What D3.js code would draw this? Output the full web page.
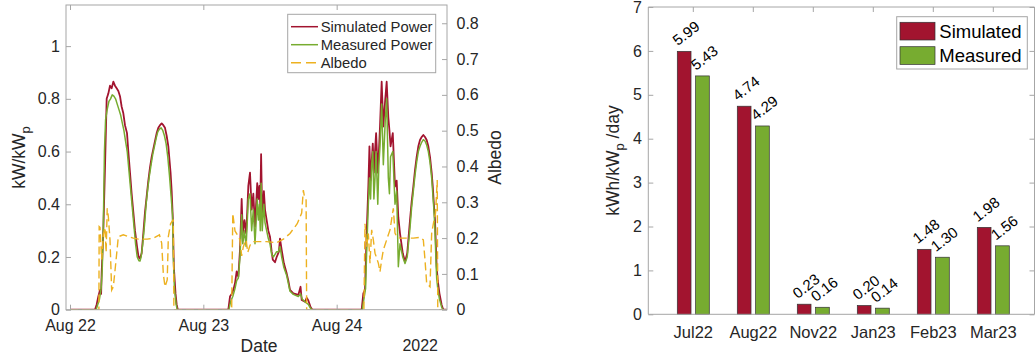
<!DOCTYPE html>
<html>
<head>
<meta charset="utf-8">
<script src="https://cdn.jsdelivr.net/npm/d3@7"></script>
<style>
  body { margin: 0; background: #fff; }
  svg { display: block; font-family: "Liberation Sans", Arial, Helvetica, sans-serif; }
</style>
</head>
<body>
<svg id="chart" width="1035" height="358"></svg>
<script>
// ---- time series, [hours since 22 Aug 2022 00:00, value] ----
const simulatedPower = [
  [0,0],[4.5,0],[4.8,0.02],[5.1,0.05],[5.4,0.075],[5.6,0.06],[5.7,0.14],[6.0,0.3],[6.3,0.54],[6.6,0.8],
  [6.9,0.82],[7.2,0.85],[7.5,0.84],[7.8,0.865],[8.1,0.85],[8.4,0.84],[8.7,0.83],[9.0,0.81],[9.3,0.77],
  [9.6,0.745],[9.9,0.7],[10.26,0.67],[10.5,0.6],[10.8,0.52],[11.1,0.44],[11.4,0.37],[11.7,0.3],[12.06,0.24],
  [12.3,0.205],[12.5,0.195],[12.7,0.2],[12.9,0.215],[13.2,0.29],[13.5,0.37],[13.8,0.43],[14.1,0.49],
  [14.4,0.54],[14.7,0.58],[15.0,0.61],[15.3,0.64],[15.6,0.67],[15.9,0.69],[16.2,0.7],[16.5,0.707],
  [16.8,0.7],[17.1,0.69],[17.4,0.66],[17.7,0.62],[18.1,0.52],[18.3,0.45],[18.5,0.35],[18.7,0.16],
  [19.0,0.06],[19.2,0.02],[19.4,0],
  [28.5,0],[28.8,0.05],[29.1,0.06],[29.4,0.075],[29.7,0.1],[30.0,0.145],[30.3,0.125],[30.6,0.227],
  [30.9,0.42],[31.1,0.29],[31.4,0.34],[31.7,0.29],[31.9,0.37],[32.1,0.47],[32.4,0.52],[32.7,0.38],
  [33.0,0.44],[33.3,0.315],[33.5,0.4],[33.7,0.48],[33.9,0.42],[34.1,0.47],[34.25,0.4],[34.4,0.59],
  [34.6,0.35],[34.9,0.45],[35.1,0.38],[35.4,0.34],[35.7,0.3],[36.0,0.277],[36.3,0.22],[36.5,0.19],
  [36.9,0.18],[37.2,0.2],[37.4,0.21],[37.6,0.22],[37.8,0.27],[38.1,0.227],[38.5,0.176],[39.0,0.138],
  [39.3,0.11],[39.6,0.075],[40.2,0.062],[41.1,0.056],[41.5,0.087],[41.7,0.037],[42.3,0.03],[42.6,0.045],
  [42.9,0.035],[43.3,0.01],[43.6,0],
  [52.5,0],[52.8,0.062],[53.1,0.075],[53.4,0.29],[53.7,0.467],[53.9,0.62],[54.1,0.49],[54.3,0.56],
  [54.5,0.63],[54.7,0.52],[54.9,0.6],[55.1,0.67],[55.4,0.52],[55.6,0.6],[55.8,0.695],[56.1,0.865],
  [56.4,0.695],[56.75,0.8],[57.0,0.865],[57.3,0.73],[57.5,0.68],[57.7,0.62],[58.1,0.67],[58.5,0.467],
  [58.8,0.49],[59.1,0.35],[59.4,0.29],[59.9,0.214],[60.3,0.182],[60.7,0.214],[61.2,0.34],[61.5,0.41],
  [61.8,0.467],[62.1,0.53],[62.4,0.58],[62.7,0.62],[63.0,0.644],[63.3,0.655],[63.6,0.663],[63.9,0.655],
  [64.2,0.644],[64.5,0.62],[64.8,0.58],[65.1,0.52],[65.3,0.467],[65.5,0.4],[65.7,0.34],[65.85,0.25],
  [66.0,0.163],[66.2,0.11],[66.5,0.062],[66.9,0.018],[67.2,0],[67.8,0]
];

const measuredPower = [
  [0,0],[4.7,0],[5.0,0.02],[5.3,0.04],[5.6,0.08],[5.8,0.15],[6.0,0.32],[6.2,0.6],[6.4,0.72],[6.7,0.76],
  [7.0,0.79],[7.3,0.8],[7.6,0.815],[7.9,0.81],[8.2,0.8],[8.5,0.78],[8.8,0.76],[9.1,0.74],[9.4,0.71],
  [9.7,0.68],[10.0,0.64],[10.3,0.6],[10.6,0.53],[10.9,0.46],[11.2,0.39],[11.5,0.32],[11.8,0.25],
  [12.1,0.2],[12.4,0.186],[12.6,0.185],[12.8,0.2],[13.1,0.25],[13.4,0.32],[13.7,0.4],[14.0,0.46],
  [14.3,0.51],[14.6,0.55],[14.9,0.59],[15.2,0.62],[15.5,0.65],[15.8,0.675],[16.1,0.685],[16.4,0.69],
  [16.7,0.68],[17.0,0.66],[17.3,0.63],[17.6,0.58],[17.9,0.51],[18.2,0.43],[18.45,0.36],[18.6,0.2],
  [18.8,0.08],[19.1,0.02],[19.3,0],
  [28.6,0],[28.9,0.03],[29.3,0.05],[29.7,0.08],[30.0,0.11],[30.3,0.12],[30.6,0.2],[30.9,0.36],
  [31.1,0.25],[31.4,0.3],[31.7,0.24],[31.9,0.33],[32.1,0.42],[32.4,0.44],[32.7,0.3],[33.0,0.38],
  [33.3,0.25],[33.5,0.33],[33.7,0.42],[33.9,0.34],[34.1,0.4],[34.25,0.3],[34.4,0.48],[34.6,0.3],
  [34.9,0.4],[35.1,0.33],[35.4,0.3],[35.7,0.27],[36.0,0.25],[36.3,0.21],[36.6,0.2],[36.9,0.21],
  [37.2,0.22],[37.5,0.22],[37.8,0.24],[38.1,0.2],[38.5,0.16],[39.0,0.13],[39.3,0.1],[39.6,0.07],
  [40.2,0.058],[41.1,0.05],[41.5,0.06],[41.8,0.04],[42.3,0.03],[42.9,0.02],[43.3,0.005],[43.6,0],
  [52.6,0],[52.9,0.04],[53.2,0.08],[53.4,0.22],[53.7,0.4],[53.9,0.5],[54.1,0.42],[54.3,0.55],
  [54.5,0.6],[54.7,0.42],[54.9,0.5],[55.1,0.6],[55.4,0.4],[55.6,0.55],[55.8,0.62],[56.1,0.78],
  [56.4,0.55],[56.75,0.72],[57.0,0.8],[57.3,0.5],[57.5,0.44],[57.7,0.58],[58.1,0.6],[58.5,0.4],
  [58.8,0.45],[59.1,0.163],[59.4,0.25],[59.9,0.2],[60.3,0.175],[60.7,0.2],[61.2,0.31],[61.5,0.39],
  [61.8,0.45],[62.1,0.51],[62.4,0.56],[62.7,0.6],[63.0,0.62],[63.3,0.635],[63.6,0.645],[63.9,0.64],
  [64.2,0.625],[64.5,0.6],[64.8,0.56],[65.1,0.5],[65.3,0.44],[65.5,0.38],[65.7,0.3],[65.85,0.2],
  [66.0,0.12],[66.2,0.08],[66.5,0.04],[66.9,0.01],[67.1,0],[67.8,0]
];

const albedo = [
  [0,0],[5.2,0],[5.25,0.232],[5.4,0.23],[5.7,0.14],[6.0,0.21],[6.3,0.23],[6.5,0.16],[6.7,0.283],
  [6.9,0.26],[7.2,0.195],[7.5,0.055],[7.8,0.064],[8.3,0.14],[8.7,0.204],[9.6,0.209],[10.5,0.204],
  [11.4,0.2],[12.3,0.197],[13.9,0.197],[15.0,0.2],[16.1,0.209],[16.5,0.186],[16.8,0.1],[17.1,0.064],
  [17.5,0.083],[17.7,0.204],[18.1,0.24],[18.5,0.25],[18.6,0.25],[18.7,0],
  [29.1,0],[29.3,0.269],[29.7,0.22],[30.1,0.21],[30.6,0.195],[30.9,0.15],[31.2,0.176],[31.7,0.195],
  [32.0,0.16],[32.4,0.18],[33.0,0.19],[34.2,0.19],[35.4,0.19],[37.2,0.187],[38.4,0.197],[39.6,0.213],
  [40.9,0.24],[41.7,0.27],[42.0,0.334],[42.2,0.316],[42.5,0.306],[42.6,0],
  [52.9,0],[53.1,0.24],[53.4,0.176],[53.7,0.213],[54.0,0.13],[54.3,0.223],[54.6,0.195],[54.9,0.158],
  [55.5,0.13],[55.8,0.106],[56.1,0.139],[56.4,0.167],[57.0,0.195],[57.6,0.223],[58.2,0.283],[58.5,0.214],
  [58.8,0.204],[59.4,0.2],[60.6,0.2],[61.8,0.2],[63.0,0.202],[63.6,0.195],[63.9,0.139],[64.2,0.074],
  [64.8,0.064],[65.1,0.213],[65.4,0.24],[65.8,0.27],[66.1,0.362],[66.2,0],[67.8,0]
];

const powerTicks = [0, 0.2, 0.4, 0.6, 0.8, 1];
const albedoTicks = [0, 0.1, 0.2, 0.3, 0.4, 0.5, 0.6, 0.7, 0.8];
const dayTicks = [0, 24, 48]; // hours: Aug 22, Aug 23, Aug 24

// ---- monthly daily yield ----
const months = ['Jul22', 'Aug22', 'Nov22', 'Jan23', 'Feb23', 'Mar23'];
const simulatedYield = [5.99, 4.74, 0.23, 0.20, 1.48, 1.98];
const measuredYield = [5.43, 4.29, 0.16, 0.14, 1.30, 1.56];
const yieldTicks = [0, 1, 2, 3, 4, 5, 6, 7];

const simColor = '#A2142F';
const measColor = '#77AC30';
const albedoColor = '#EDB120';
const frameColor = '#a6a6a6';
const textColor = '#262626';

const svg = d3.select('#chart');

// ================= left: time series =================
const L = { x0: 66, x1: 447, y0: 5, y1: 309.7 };
const t0 = Date.UTC(2022, 7, 22);
const toDate = h => new Date(t0 + h * 3600e3);

const x = d3.scaleUtc().domain([toDate(-0.72), toDate(67.86)]).range([L.x0, L.x1]);
const yP = d3.scaleLinear().domain([0, 1.156]).range([L.y1, L.y0]);
const yA = d3.scaleLinear().domain([0, 0.851]).range([L.y1, L.y0]);

svg.append('clipPath').attr('id', 'clipL')
  .append('rect').attr('x', L.x0).attr('y', L.y0).attr('width', L.x1 - L.x0).attr('height', L.y1 - L.y0);

const gL = svg.append('g');

const linePower = d3.line().x(d => x(toDate(d[0]))).y(d => yP(d[1]));
const lineAlbedo = d3.line().x(d => x(toDate(d[0]))).y(d => yA(d[1]));

const plotL = gL.append('g').attr('clip-path', 'url(#clipL)');
plotL.append('path').datum(simulatedPower).attr('d', linePower)
  .attr('fill', 'none').attr('stroke', simColor).attr('stroke-width', 1.8).attr('stroke-linejoin', 'round');
plotL.append('path').datum(measuredPower).attr('d', linePower)
  .attr('fill', 'none').attr('stroke', measColor).attr('stroke-width', 1.5).attr('stroke-linejoin', 'round');
plotL.append('path').datum(albedo).attr('d', lineAlbedo)
  .attr('fill', 'none').attr('stroke', albedoColor).attr('stroke-width', 1.4)
  .attr('stroke-dasharray', '8,4');

function styleAxis(g, size) {
  g.select('.domain').remove();
  g.selectAll('.tick line').attr('stroke', frameColor);
  g.selectAll('.tick text').attr('fill', textColor).attr('font-size', size);
}

gL.append('g').attr('transform', `translate(${L.x0},0)`)
  .call(d3.axisLeft(yP).tickValues(powerTicks).tickSize(-5).tickPadding(6).tickFormat(d3.format('~g')))
  .call(g => styleAxis(g, '16px'));

gL.append('g').attr('transform', `translate(${L.x1},0)`)
  .call(d3.axisRight(yA).tickValues(albedoTicks).tickSize(-5).tickPadding(9.5).tickFormat(d3.format('~g')))
  .call(g => styleAxis(g, '16px'));

gL.append('g').attr('transform', `translate(0,${L.y1})`)
  .call(d3.axisBottom(x).tickValues(dayTicks.map(toDate)).tickSize(-5).tickPadding(9.5).tickFormat(d3.utcFormat('%b %d')))
  .call(g => styleAxis(g, '16px'));

gL.append('g').attr('transform', `translate(0,${L.y0})`)
  .call(d3.axisTop(x).tickValues(dayTicks.map(toDate)).tickSize(-5).tickFormat(''))
  .call(g => styleAxis(g, '16px'));

gL.append('rect').attr('x', L.x0).attr('y', L.y0).attr('width', L.x1 - L.x0).attr('height', L.y1 - L.y0)
  .attr('fill', 'none').attr('stroke', frameColor);

const ylabL = gL.append('text').attr('transform', `translate(25,157.5) rotate(-90)`)
  .attr('text-anchor', 'middle').attr('font-size', '17.5px').attr('fill', textColor);
ylabL.append('tspan').text('kW/kW');
ylabL.append('tspan').attr('dy', '0.35em').attr('font-size', '13px').text('p');

gL.append('text').attr('transform', `translate(501,157.5) rotate(-90)`)
  .attr('text-anchor', 'middle').attr('font-size', '17.5px').attr('fill', textColor).text('Albedo');

gL.append('text').attr('x', 259).attr('y', 351.5).attr('text-anchor', 'middle')
  .attr('font-size', '17.5px').attr('fill', textColor).text('Date');
gL.append('text').attr('x', 438).attr('y', 350.5).attr('text-anchor', 'end')
  .attr('font-size', '16px').attr('fill', textColor).text('2022');

// legend
const legL = gL.append('g');
legL.append('rect').attr('x', 287.7).attr('y', 14.3).attr('width', 148).attr('height', 58.4)
  .attr('fill', '#fff').attr('stroke', frameColor);
const legItems = [
  { name: 'Simulated Power', color: simColor, dash: null },
  { name: 'Measured Power', color: measColor, dash: null },
  { name: 'Albedo', color: albedoColor, dash: '10,5' }
];
legItems.forEach((d, i) => {
  const yy = 26.7 + i * 18;
  legL.append('line').attr('x1', 291).attr('x2', 318).attr('y1', yy).attr('y2', yy)
    .attr('stroke', d.color).attr('stroke-width', 1.5).attr('stroke-dasharray', d.dash);
  legL.append('text').attr('x', 320.7).attr('y', yy).attr('dy', '0.35em')
    .attr('font-size', '14.8px').attr('fill', textColor).text(d.name);
});

// ================= right: bar chart =================
const R = { x0: 648.3, x1: 1034.5, y0: 7, y1: 314.3 };
const xb = d3.scaleBand().domain(months).range([648.3, 1038.3]).paddingInner(0).paddingOuter(0.25);
const xs = d3.scaleBand().domain(['Simulated', 'Measured']).range([-16, 16]).paddingInner(0.25);
const yb = d3.scaleLinear().domain([0, 7]).range([R.y1, R.y0]);

const gR = svg.append('g');

gR.append('g').attr('transform', `translate(${R.x0},0)`)
  .call(d3.axisLeft(yb).tickValues(yieldTicks).tickSize(-5).tickPadding(6.5).tickFormat(d3.format('d')))
  .call(g => styleAxis(g, '16px'));
gR.append('g').attr('transform', `translate(${R.x1},0)`)
  .call(d3.axisRight(yb).tickValues(yieldTicks).tickSize(-5).tickFormat(''))
  .call(g => styleAxis(g, '16px'));
gR.append('g').attr('transform', `translate(0,${R.y0})`)
  .call(d3.axisTop(xb).tickSize(-5).tickFormat(''))
  .call(g => styleAxis(g, '16px'));

const barData = months.map((m, i) => ({ month: m, vals: [
  { series: 'Simulated', value: simulatedYield[i], color: simColor },
  { series: 'Measured', value: measuredYield[i], color: measColor }
]}));

const groups = gR.selectAll('g.month').data(barData).enter().append('g')
  .attr('class', 'month')
  .attr('transform', d => `translate(${xb(d.month) + xb.bandwidth() / 2},0)`);

groups.selectAll('rect').data(d => d.vals).enter().append('rect')
  .attr('x', d => xs(d.series))
  .attr('y', d => yb(d.value))
  .attr('width', xs.bandwidth())
  .attr('height', d => yb(0) - yb(d.value))
  .attr('fill', d => d.color)
  .attr('stroke', '#333')
  .attr('stroke-width', 0.7);

groups.selectAll('text.val').data(d => d.vals).enter().append('text')
  .attr('class', 'val')
  .attr('transform', d => `translate(${xs(d.series) + 0.5},${yb(d.value) - 5}) rotate(-38)`)
  .attr('font-size', '15px').attr('fill', '#000')
  .text(d => d.value.toFixed(2));

gR.append('g').selectAll('text').data(months).enter().append('text')
  .attr('x', d => xb(d) + xb.bandwidth() / 2).attr('y', 337.5)
  .attr('text-anchor', 'middle').attr('font-size', '16.5px').attr('fill', textColor)
  .text(d => d);

// frame
gR.append('path')
  .attr('d', `M${R.x0},${R.y0}H${R.x1}V${R.y1}H${R.x0}Z`)
  .attr('fill', 'none').attr('stroke', frameColor);

const ylabR = gR.append('text').attr('transform', `translate(619,160.5) rotate(-90)`)
  .attr('text-anchor', 'middle').attr('font-size', '17.5px').attr('fill', textColor);
ylabR.append('tspan').text('kWh/kW');
ylabR.append('tspan').attr('dy', '0.35em').attr('font-size', '13px').text('p');
ylabR.append('tspan').attr('dy', '-0.26em').text('\u00a0/day');

// legend
const legR = gR.append('g');
legR.append('rect').attr('x', 896.7).attr('y', 16.7).attr('width', 130.6).attr('height', 52.3)
  .attr('fill', '#fff').attr('stroke', frameColor);
[{ name: 'Simulated', color: simColor }, { name: 'Measured', color: measColor }].forEach((d, i) => {
  const yy = 22.3 + i * 24.4;
  legR.append('rect').attr('x', 900).attr('y', yy).attr('width', 35).attr('height', 17.7)
    .attr('fill', d.color).attr('stroke', '#333').attr('stroke-width', 0.7);
  legR.append('text').attr('x', 939.3).attr('y', yy + 8.9).attr('dy', '0.35em')
    .attr('font-size', '18.5px').attr('fill', '#000').text(d.name);
});
</script>
</body>
</html>
